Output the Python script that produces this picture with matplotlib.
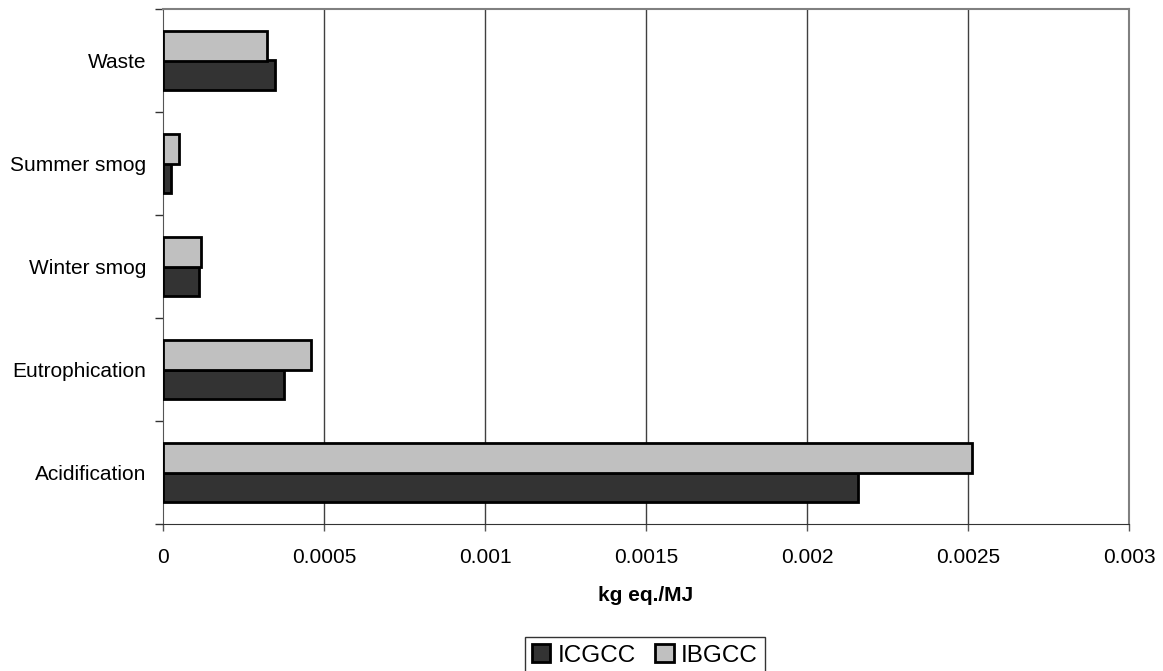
import matplotlib
matplotlib.use("Agg")
import matplotlib.pyplot as plt
import numpy as np

plt.rcParams['font.family'] = ['Liberation Sans', 'DejaVu Sans']

# impact categories, bottom to top
categories = ['Acidification', 'Eutrophication', 'Winter smog', 'Summer smog', 'Waste']
icgcc = [0.002157, 0.000375, 0.000112, 0.000026, 0.000347]
ibgcc = [0.002513, 0.000461, 0.000117, 0.000050, 0.000324]
xticks = [0, 0.0005, 0.001, 0.0015, 0.002, 0.0025, 0.003]
xtick_labels = ['0', '0.0005', '0.001', '0.0015', '0.002', '0.0025', '0.003']

fig = plt.figure(figsize=(11.63, 6.71), dpi=100)
ax = fig.add_axes([163 / 1163, 1 - 524 / 671, (1129 - 163) / 1163, (524 - 9) / 671])

y = np.arange(len(categories))
h = 0.284
ax.barh(y - h / 2, icgcc, height=h, color='#333333', edgecolor='black', linewidth=2,
        label='ICGCC', zorder=3)
ax.barh(y + h / 2, ibgcc, height=h, color='#c0c0c0', edgecolor='black', linewidth=2,
        label='IBGCC', zorder=3)

ax.set_xlim(0, 0.003)
ax.set_ylim(-0.5, len(categories) - 0.5)
ax.set_xticks(xticks)
ax.set_xticklabels(xtick_labels, fontsize=15)
ax.set_yticks(y)
ax.set_yticklabels(categories, fontsize=15)
ax.tick_params(axis='y', length=0, pad=12)
ax.set_yticks(np.arange(-0.5, len(categories)), minor=True)
ax.tick_params(axis='y', which='minor', length=6, width=1, color='#333333', direction='out')
ax.tick_params(axis='x', length=5, width=1, color='#555555', pad=12)

for x in xticks[1:]:
    ax.axvline(x, color='#404040', linewidth=1, zorder=1)

for side in ['top', 'right']:
    ax.spines[side].set_color('#808080')
    ax.spines[side].set_linewidth(1.5)
ax.spines['left'].set_color('#555555')
ax.spines['bottom'].set_color('#333333')

ax.set_xlabel('kg eq./MJ', fontsize=15, fontweight='bold', labelpad=14)

fig.legend(loc='upper center', bbox_to_anchor=(645 / 1163, 1 - 637 / 671), ncol=2, fontsize=17.5,
           frameon=True, fancybox=False, edgecolor='black', handlelength=0.75,
           handleheight=0.75, handletextpad=0.3, columnspacing=0.8, borderpad=0.3,
           borderaxespad=0)

fig.savefig('out.png', dpi=100)
